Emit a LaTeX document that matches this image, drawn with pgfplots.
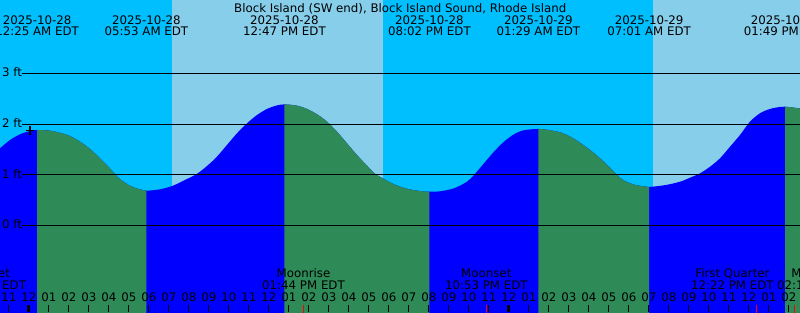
\documentclass[border=0pt]{standalone}
\usepackage{fontspec}
\setmainfont{DejaVu Sans}
\usepackage{pgfplots}
\usepackage{pgfplotstable}
\usepgfplotslibrary{fillbetween}
\pgfplotsset{compat=1.18}
\definecolor{nightc}{RGB}{0,191,255}
\definecolor{dayc}{RGB}{135,206,235}
\definecolor{floodc}{RGB}{0,0,255}
\definecolor{ebbc}{RGB}{46,139,87}
\newcommand\xf{\fontsize{11.8}{13}\selectfont}

% tide curve (hours after 2025-10-28 00:00 EDT, feet)
\pgfplotstableread{
h ft
-1.50 1.505
-1.44 1.524
-0.94 1.687
-0.44 1.800
0.06 1.865
0.417 1.885
1.06 1.870
1.56 1.830
2.06 1.766
2.56 1.654
3.06 1.510
3.56 1.326
4.06 1.125
4.31 1.015
4.56 0.915
5.06 0.785
5.56 0.712
5.883 0.687
6.56 0.714
7.21 0.786
7.91 0.918
8.41 1.020
8.91 1.174
9.41 1.360
9.91 1.590
10.41 1.820
10.91 2.017
11.41 2.180
11.91 2.300
12.41 2.370
12.783 2.390
13.41 2.365
13.91 2.300
14.41 2.195
14.91 2.050
15.41 1.850
15.91 1.620
16.41 1.390
16.91 1.180
17.31 1.020
17.76 0.918
18.26 0.813
18.91 0.726
19.56 0.680
20.033 0.667
20.56 0.675
21.26 0.734
21.91 0.864
22.26 0.997
22.76 1.227
23.26 1.457
23.76 1.654
24.26 1.800
24.76 1.880
25.483 1.905
26.06 1.880
26.71 1.820
27.36 1.687
28.06 1.490
28.56 1.326
29.06 1.140
29.36 1.016
29.71 0.898
30.21 0.813
30.71 0.774
31.017 0.760
31.86 0.800
32.56 0.864
33.06 0.943
33.56 1.030
34.06 1.160
34.56 1.326
35.06 1.555
35.56 1.786
36.06 2.050
36.56 2.215
37.06 2.300
37.56 2.340
37.817 2.345
38.56 2.310
38.70 2.300
}\tide

\begin{document}
\begin{tikzpicture}
\begin{axis}[
  width=800pt, height=312pt, scale only axis,
  xmin=-1.44, xmax=38.56, ymin=-1.707, ymax=4.45,
  axis line style={draw=none},
  axis background/.style={fill=nightc},
  axis on top,
  ytick=\empty,
  xtick={-1,0,...,38},
  xticklabels={11,12,01,02,03,04,05,06,07,08,09,10,11,12,01,02,03,04,05,06,07,08,09,10,11,12,01,02,03,04,05,06,07,08,09,10,11,12,01,02},
  xtick pos=left, xtick align=inside, major tick length=7.3pt,
  tick style={black, line width=1pt},
  xticklabel style={anchor=base, yshift=10.7pt, font=\xf, inner sep=0pt},
  extra x ticks={0,24}, extra x tick labels={},
  extra x tick style={tick style={line width=3pt}},
]
% daylight
\addplot[fill=dayc, draw=none, on layer=pre main] coordinates {(7.145,-1.8) (7.145,4.6) (17.71,4.6) (17.71,-1.8)} -- cycle;
\addplot[fill=dayc, draw=none, on layer=pre main] coordinates {(31.21,-1.8) (31.21,4.6) (39,4.6) (39,-1.8)} -- cycle;
% tide
\addplot[name path=tidecurve, draw=none, smooth, tension=0.5] table[x=h, y=ft] {\tide};
\addplot[name path=floor, draw=none] coordinates {(-1.5,-1.8) (38.7,-1.8)};
\addplot[fill=floodc, draw=none] fill between[of=tidecurve and floor];
\addplot[fill=ebbc, draw=none] fill between[of=tidecurve and floor, soft clip={domain=0.417:5.883}];
\addplot[fill=ebbc, draw=none] fill between[of=tidecurve and floor, soft clip={domain=12.783:20.033}];
\addplot[fill=ebbc, draw=none] fill between[of=tidecurve and floor, soft clip={domain=25.483:31.017}];
\addplot[fill=ebbc, draw=none] fill between[of=tidecurve and floor, soft clip={domain=37.817:38.7}];
% datum lines
\addplot[black, line width=1pt] coordinates {(-0.355,0) (38.6,0)};
\addplot[black, line width=1pt] coordinates {(-0.355,1) (38.6,1)};
\addplot[black, line width=1pt] coordinates {(-0.355,2) (38.6,2)};
\addplot[black, line width=1pt] coordinates {(-0.355,3) (38.6,3)};
% moon event ticks
\addplot[red, line width=1pt] coordinates {(13.733,-1.564) (13.733,-1.8)};
\addplot[red, line width=1pt] coordinates {(22.883,-1.564) (22.883,-1.8)};
\addplot[red, line width=1pt] coordinates {(36.367,-1.564) (36.367,-1.8)};
\addplot[red, line width=1pt] coordinates {(38.275,-1.564) (38.275,-1.8)};
% now marker
\addplot[black, only marks, mark=+, mark size=4.35pt, mark options={line width=1.6pt}] coordinates {(0.06,1.871)};

% level labels
\node[anchor=base west, inner sep=0pt, font=\xf] at (axis cs:-1.34,2.937) {3 ft};
\node[anchor=base west, inner sep=0pt, font=\xf] at (axis cs:-1.34,1.937) {2 ft};
\node[anchor=base west, inner sep=0pt, font=\xf] at (axis cs:-1.34,0.937) {1 ft};
\node[anchor=base west, inner sep=0pt, font=\xf] at (axis cs:-1.34,-0.063) {0 ft};

% title
\node[anchor=base, inner sep=0pt, font=\xf] at (axis cs:18.57,4.208) {Block Island (SW end), Block Island Sound, Rhode Island};

% tide event labels
\node[anchor=base, inner sep=0pt, font=\xf] at (axis cs:0.417,3.971) {2025-10-28};
\node[anchor=base, inner sep=0pt, font=\xf] at (axis cs:0.417,3.740) {12:25 AM EDT};
\node[anchor=base, inner sep=0pt, font=\xf] at (axis cs:5.883,3.971) {2025-10-28};
\node[anchor=base, inner sep=0pt, font=\xf] at (axis cs:5.883,3.740) {05:53 AM EDT};
\node[anchor=base, inner sep=0pt, font=\xf] at (axis cs:12.783,3.971) {2025-10-28};
\node[anchor=base, inner sep=0pt, font=\xf] at (axis cs:12.783,3.740) {12:47 PM EDT};
\node[anchor=base, inner sep=0pt, font=\xf] at (axis cs:20.033,3.971) {2025-10-28};
\node[anchor=base, inner sep=0pt, font=\xf] at (axis cs:20.033,3.740) {08:02 PM EDT};
\node[anchor=base, inner sep=0pt, font=\xf] at (axis cs:25.483,3.971) {2025-10-29};
\node[anchor=base, inner sep=0pt, font=\xf] at (axis cs:25.483,3.740) {01:29 AM EDT};
\node[anchor=base, inner sep=0pt, font=\xf] at (axis cs:31.017,3.971) {2025-10-29};
\node[anchor=base, inner sep=0pt, font=\xf] at (axis cs:31.017,3.740) {07:01 AM EDT};
\node[anchor=base, inner sep=0pt, font=\xf] at (axis cs:37.817,3.971) {2025-10-29};
\node[anchor=base, inner sep=0pt, font=\xf] at (axis cs:37.817,3.740) {01:49 PM EDT};

% moon labels
\node[anchor=base, inner sep=0pt, font=\xf] at (axis cs:-2.205,-1.030) {Moonset};
\node[anchor=base, inner sep=0pt, font=\xf] at (axis cs:-2.205,-1.263) {09:49 PM EDT};
\node[anchor=base, inner sep=0pt, font=\xf] at (axis cs:13.735,-1.030) {Moonrise};
\node[anchor=base, inner sep=0pt, font=\xf] at (axis cs:13.735,-1.263) {01:44 PM EDT};
\node[anchor=base, inner sep=0pt, font=\xf] at (axis cs:22.875,-1.030) {Moonset};
\node[anchor=base, inner sep=0pt, font=\xf] at (axis cs:22.875,-1.263) {10:53 PM EDT};
\node[anchor=base, inner sep=0pt, font=\xf] at (axis cs:35.18,-1.030) {First Quarter};
\node[anchor=base, inner sep=0pt, font=\xf] at (axis cs:35.18,-1.263) {12:22 PM EDT};
\node[anchor=base, inner sep=0pt, font=\xf] at (axis cs:39.475,-1.030) {Moonrise};
\node[anchor=base, inner sep=0pt, font=\xf] at (axis cs:39.475,-1.263) {02:17 PM EDT};
\end{axis}
\pgfresetboundingbox
\path[use as bounding box] (current axis.south west) rectangle (current axis.north east);
\end{tikzpicture}
\end{document}
